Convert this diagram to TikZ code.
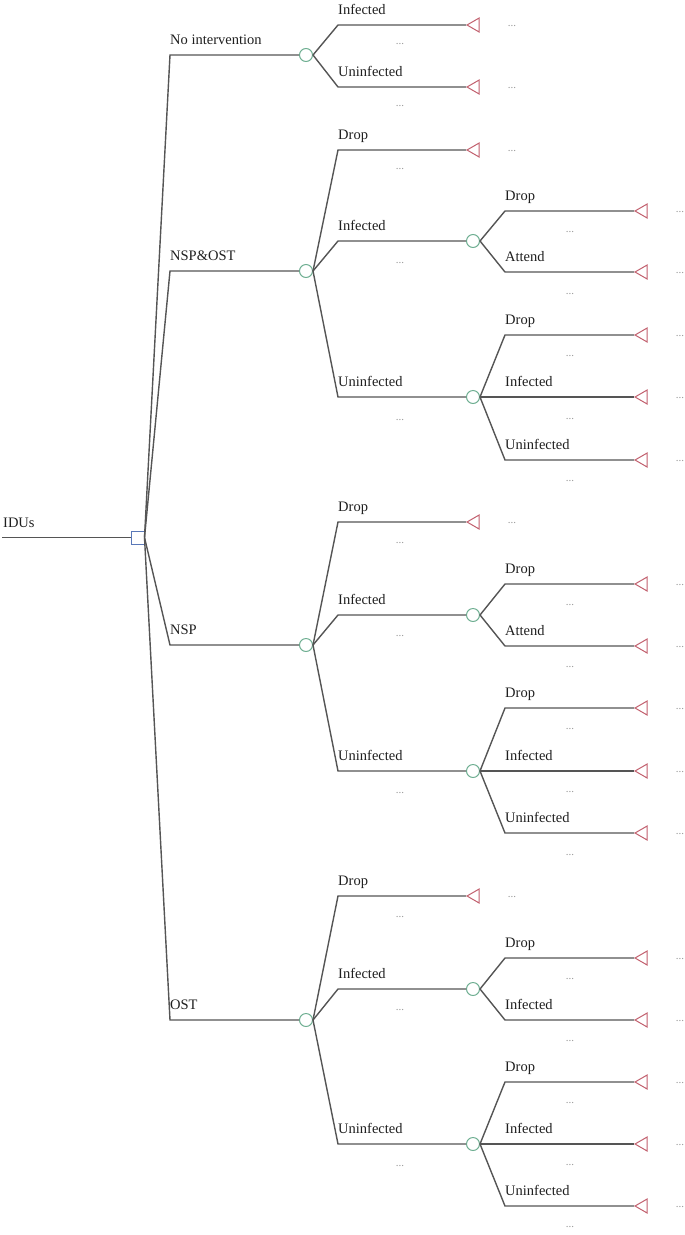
\documentclass[tikz,border=0pt]{standalone}
\usepackage{fontspec}
\setmainfont{Liberation Serif}
\usepackage{tikz}
\usetikzlibrary{shapes.geometric}

\definecolor{edgegray}{HTML}{555555}
\definecolor{chancegreen}{HTML}{6FAF92}
\definecolor{decblue}{HTML}{5A78B8}
\definecolor{termred}{HTML}{C2606E}

\begin{document}
\begin{tikzpicture}[x=1pt, y=-1pt,
  branch/.style={draw=edgegray, line width=1.4pt},
  decision/.style={draw=decblue, line width=1pt, fill=white,
    rectangle, minimum size=13pt, inner sep=0pt},
  chance/.style={draw=chancegreen, line width=1pt, fill=white,
    circle, minimum size=13pt, inner sep=0pt},
  terminal/.style={draw=termred, line width=1pt, fill=white,
    regular polygon, regular polygon sides=3,
    regular polygon rotate=90, minimum size=16pt, inner sep=0pt},
  lbl/.style={anchor=base west, inner sep=0pt, text=black!88,
    font=\fontsize{14.5}{17}\selectfont},
  dots/.style={inner sep=0pt, text=black!40,
    font=\fontsize{11}{12}\selectfont}
]
  \useasboundingbox (0,0) rectangle (685,1235);

  % root
  \coordinate (start) at (2,537.5);
  \node[decision] (idus) at (137.5,537.5) {};
  \node[lbl] (idus-l) at (3,527) {IDUs};
  \draw[branch] (start) -- (idus);

  % strategies
  \coordinate (k-ni) at (170,55);
  \coordinate (k-no) at (170,271);
  \coordinate (k-n) at (170,645);
  \coordinate (k-o) at (170,1020);
  \node[chance] (ni) at (306,55) {};
  \node[chance] (no) at (306,271) {};
  \node[chance] (n) at (306,645) {};
  \node[chance] (o) at (306,1020) {};
  \node[lbl] (ni-l) at (170,44) {No intervention};
  \node[lbl] (no-l) at (170,260) {NSP\&OST};
  \node[lbl] (n-l) at (170,634) {NSP};
  \node[lbl] (o-l) at (170,1009) {OST};
  \draw[branch] (idus.east) -- (k-ni) -- (ni);
  \draw[branch] (idus.east) -- (k-no) -- (no);
  \draw[branch] (idus.east) -- (k-n) -- (n);
  \draw[branch] (idus.east) -- (k-o) -- (o);

  % no intervention
  \coordinate (k-ni1) at (338,25);
  \coordinate (k-ni2) at (338,87);
  \node[terminal] (ni1) at (475,25) {};
  \node[terminal] (ni2) at (475,87) {};
  \node[lbl] (ni1-l) at (338,14) {Infected};
  \node[lbl] (ni2-l) at (338,76) {Uninfected};
  \node[dots] (ni1-d) at (400,44) {...};
  \node[dots] (ni2-d) at (400,106) {...};
  \node[dots] (ni1-e) at (512,26) {...};
  \node[dots] (ni2-e) at (512,88) {...};
  \draw[branch] (ni.east) -- (k-ni1) -- (ni1);
  \draw[branch] (ni.east) -- (k-ni2) -- (ni2);

  % NSP&OST
  \coordinate (k-no1) at (338,150);
  \coordinate (k-no2) at (338,241);
  \coordinate (k-no3) at (338,397);
  \node[terminal] (no1) at (475,150) {};
  \node[chance] (no2) at (473,241) {};
  \node[chance] (no3) at (473,397) {};
  \node[lbl] (no1-l) at (338,139) {Drop};
  \node[lbl] (no2-l) at (338,230) {Infected};
  \node[lbl] (no3-l) at (338,386) {Uninfected};
  \node[dots] (no1-d) at (400,169) {...};
  \node[dots] (no2-d) at (400,263) {...};
  \node[dots] (no3-d) at (400,420) {...};
  \node[dots] (no1-e) at (512,151) {...};
  \draw[branch] (no.east) -- (k-no1) -- (no1);
  \draw[branch] (no.east) -- (k-no2) -- (no2);
  \draw[branch] (no.east) -- (k-no3) -- (no3);

  \coordinate (k-no21) at (505,211);
  \coordinate (k-no22) at (505,272);
  \node[terminal] (no21) at (643,211) {};
  \node[terminal] (no22) at (643,272) {};
  \node[lbl] (no21-l) at (505,200) {Drop};
  \node[lbl] (no22-l) at (505,261) {Attend};
  \node[dots] (no21-d) at (570,232) {...};
  \node[dots] (no22-d) at (570,294) {...};
  \node[dots] (no21-e) at (680,212) {...};
  \node[dots] (no22-e) at (680,273) {...};
  \draw[branch] (no2.east) -- (k-no21) -- (no21);
  \draw[branch] (no2.east) -- (k-no22) -- (no22);

  \coordinate (k-no31) at (505,335);
  \coordinate (k-no32) at (505,397);
  \coordinate (k-no33) at (505,460);
  \node[terminal] (no31) at (643,335) {};
  \node[terminal] (no32) at (643,397) {};
  \node[terminal] (no33) at (643,460) {};
  \node[lbl] (no31-l) at (505,324) {Drop};
  \node[lbl] (no32-l) at (505,386) {Infected};
  \node[lbl] (no33-l) at (505,449) {Uninfected};
  \node[dots] (no31-d) at (570,356) {...};
  \node[dots] (no32-d) at (570,419) {...};
  \node[dots] (no33-d) at (570,481) {...};
  \node[dots] (no31-e) at (680,336) {...};
  \node[dots] (no32-e) at (680,398) {...};
  \node[dots] (no33-e) at (680,461) {...};
  \draw[branch] (no3.east) -- (k-no31) -- (no31);
  \draw[branch] (no3.east) -- (k-no32) -- (no32);
  \draw[branch] (no3.east) -- (k-no33) -- (no33);

  % NSP
  \coordinate (k-n1) at (338,522);
  \coordinate (k-n2) at (338,615);
  \coordinate (k-n3) at (338,771);
  \node[terminal] (n1) at (475,522) {};
  \node[chance] (n2) at (473,615) {};
  \node[chance] (n3) at (473,771) {};
  \node[lbl] (n1-l) at (338,511) {Drop};
  \node[lbl] (n2-l) at (338,604) {Infected};
  \node[lbl] (n3-l) at (338,760) {Uninfected};
  \node[dots] (n1-d) at (400,543) {...};
  \node[dots] (n2-d) at (400,636) {...};
  \node[dots] (n3-d) at (400,793) {...};
  \node[dots] (n1-e) at (512,523) {...};
  \draw[branch] (n.east) -- (k-n1) -- (n1);
  \draw[branch] (n.east) -- (k-n2) -- (n2);
  \draw[branch] (n.east) -- (k-n3) -- (n3);

  \coordinate (k-n21) at (505,584);
  \coordinate (k-n22) at (505,646);
  \node[terminal] (n21) at (643,584) {};
  \node[terminal] (n22) at (643,646) {};
  \node[lbl] (n21-l) at (505,573) {Drop};
  \node[lbl] (n22-l) at (505,635) {Attend};
  \node[dots] (n21-d) at (570,605) {...};
  \node[dots] (n22-d) at (570,667) {...};
  \node[dots] (n21-e) at (680,585) {...};
  \node[dots] (n22-e) at (680,647) {...};
  \draw[branch] (n2.east) -- (k-n21) -- (n21);
  \draw[branch] (n2.east) -- (k-n22) -- (n22);

  \coordinate (k-n31) at (505,708);
  \coordinate (k-n32) at (505,771);
  \coordinate (k-n33) at (505,833);
  \node[terminal] (n31) at (643,708) {};
  \node[terminal] (n32) at (643,771) {};
  \node[terminal] (n33) at (643,833) {};
  \node[lbl] (n31-l) at (505,697) {Drop};
  \node[lbl] (n32-l) at (505,760) {Infected};
  \node[lbl] (n33-l) at (505,822) {Uninfected};
  \node[dots] (n31-d) at (570,729) {...};
  \node[dots] (n32-d) at (570,792) {...};
  \node[dots] (n33-d) at (570,855) {...};
  \node[dots] (n31-e) at (680,709) {...};
  \node[dots] (n32-e) at (680,772) {...};
  \node[dots] (n33-e) at (680,834) {...};
  \draw[branch] (n3.east) -- (k-n31) -- (n31);
  \draw[branch] (n3.east) -- (k-n32) -- (n32);
  \draw[branch] (n3.east) -- (k-n33) -- (n33);

  % OST
  \coordinate (k-o1) at (338,896);
  \coordinate (k-o2) at (338,989);
  \coordinate (k-o3) at (338,1144);
  \node[terminal] (o1) at (475,896) {};
  \node[chance] (o2) at (473,989) {};
  \node[chance] (o3) at (473,1144) {};
  \node[lbl] (o1-l) at (338,885) {Drop};
  \node[lbl] (o2-l) at (338,978) {Infected};
  \node[lbl] (o3-l) at (338,1133) {Uninfected};
  \node[dots] (o1-d) at (400,917) {...};
  \node[dots] (o2-d) at (400,1010) {...};
  \node[dots] (o3-d) at (400,1166) {...};
  \node[dots] (o1-e) at (512,897) {...};
  \draw[branch] (o.east) -- (k-o1) -- (o1);
  \draw[branch] (o.east) -- (k-o2) -- (o2);
  \draw[branch] (o.east) -- (k-o3) -- (o3);

  \coordinate (k-o21) at (505,958);
  \coordinate (k-o22) at (505,1020);
  \node[terminal] (o21) at (643,958) {};
  \node[terminal] (o22) at (643,1020) {};
  \node[lbl] (o21-l) at (505,947) {Drop};
  \node[lbl] (o22-l) at (505,1009) {Infected};
  \node[dots] (o21-d) at (570,979) {...};
  \node[dots] (o22-d) at (570,1041) {...};
  \node[dots] (o21-e) at (680,959) {...};
  \node[dots] (o22-e) at (680,1021) {...};
  \draw[branch] (o2.east) -- (k-o21) -- (o21);
  \draw[branch] (o2.east) -- (k-o22) -- (o22);

  \coordinate (k-o31) at (505,1082);
  \coordinate (k-o32) at (505,1144);
  \coordinate (k-o33) at (505,1206);
  \node[terminal] (o31) at (643,1082) {};
  \node[terminal] (o32) at (643,1144) {};
  \node[terminal] (o33) at (643,1206) {};
  \node[lbl] (o31-l) at (505,1071) {Drop};
  \node[lbl] (o32-l) at (505,1133) {Infected};
  \node[lbl] (o33-l) at (505,1195) {Uninfected};
  \node[dots] (o31-d) at (570,1103) {...};
  \node[dots] (o32-d) at (570,1165) {...};
  \node[dots] (o33-d) at (570,1227) {...};
  \node[dots] (o31-e) at (680,1083) {...};
  \node[dots] (o32-e) at (680,1145) {...};
  \node[dots] (o33-e) at (680,1207) {...};
  \draw[branch] (o3.east) -- (k-o31) -- (o31);
  \draw[branch] (o3.east) -- (k-o32) -- (o32);
  \draw[branch] (o3.east) -- (k-o33) -- (o33);
\end{tikzpicture}
\end{document}
